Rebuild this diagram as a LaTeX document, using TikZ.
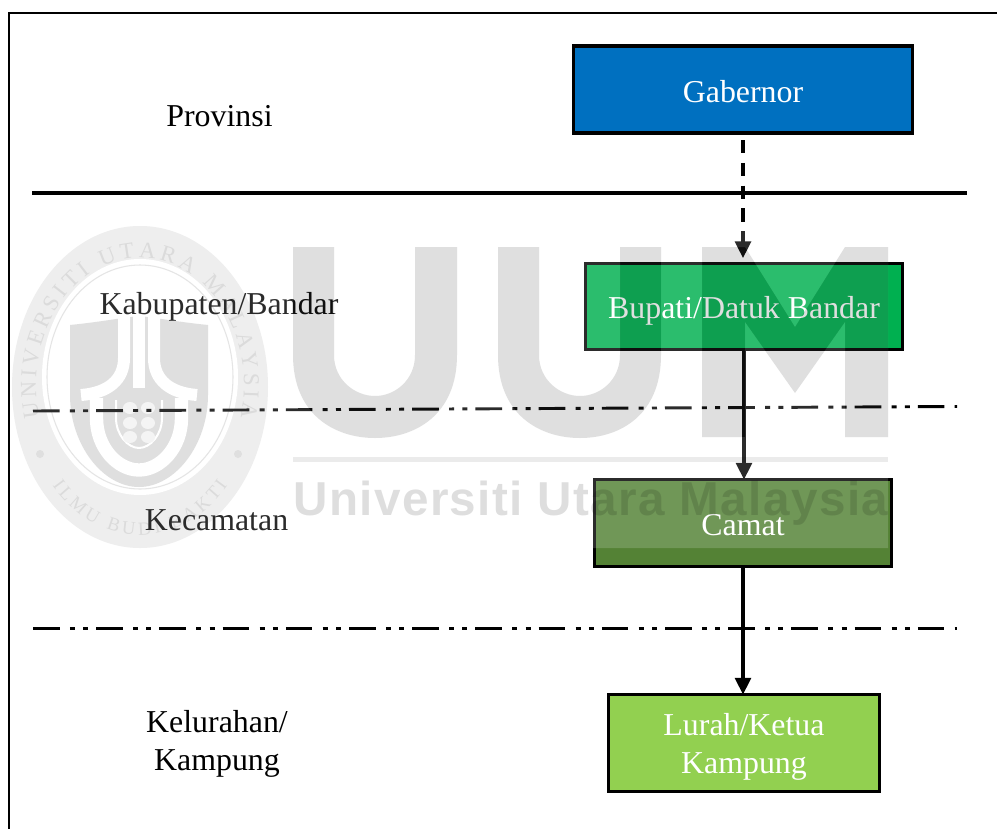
\documentclass[tikz,border=0pt]{standalone}
\usepackage{fontspec}
\setmainfont{Liberation Serif}
\newfontfamily\wmfont[LetterSpace=3]{Liberation Sans}
\usetikzlibrary{arrows.meta,decorations.text}
\definecolor{gabfill}{HTML}{0070C0}
\definecolor{bupfill}{HTML}{00B050}
\definecolor{camfill}{HTML}{548235}
\definecolor{lurfill}{HTML}{92D050}
\definecolor{wmgray}{HTML}{525252}
\newcommand{\labelfont}{\fontsize{23.9pt}{28.5pt}\selectfont}
\newcommand{\sealfont}{\fontsize{17pt}{20pt}\selectfont\color{black!17}}
\newcommand{\sealfontb}{\fontsize{14pt}{17pt}\selectfont\color{black!17}}
\tikzset{
  office/.style={draw=black,line width=2.5pt,text=white,inner sep=0pt,outer sep=0pt,align=center,font=\labelfont},
  level/.style={text=black,inner sep=0pt,align=center,font=\labelfont},
  link/.style={draw=black,line width=2.3pt,-{Triangle[width=12pt,length=12.5pt]}},
  framing/.style={draw=black,line width=2.1pt},
  solidsep/.style={draw=black,line width=2.4pt},
  dotsep/.style={draw=black,line width=2.2pt,dash pattern=on 20pt off 7.7pt on 3.75pt off 6.2pt on 3.75pt off 6pt},
  wmmark/.style={fill=wmgray,fill opacity=.18,draw=none},
}
\newcommand{\wmletters}{%
  (293,247) -- (293,355) .. controls (293,415) and (335,438) .. (375,438) .. controls (415,438) and (457,415) .. (457,355) -- (457,247) -- (415,247) -- (415,355) .. controls (415,380) and (395,396) .. (375,396) .. controls (355,396) and (334,380) .. (334,355) -- (334,247) -- cycle
  (498,247) -- (498,355) .. controls (498,415) and (540,438) .. (580,438) .. controls (620,438) and (661,415) .. (661,355) -- (661,247) -- (620,247) -- (620,355) .. controls (620,380) and (600,396) .. (580,396) .. controls (560,396) and (539,380) .. (539,355) -- (539,247) -- cycle
  (702,247) -- (745,247) -- (795,327) -- (845,247) -- (888,247) -- (888,437) -- (845,437) -- (845,322) -- (795,393) -- (745,322) -- (745,437) -- (702,437) -- cycle}
\begin{document}
\begin{tikzpicture}[x=.75pt,y=-.75pt]
\useasboundingbox (0,0) rectangle (997,829);
\fill[white] (0,0) rectangle (997,829);
% seal of the watermark
\fill[black!8] (140,387) ellipse [x radius=128,y radius=161];
\fill[white] (140,377) ellipse [x radius=98,y radius=118];
\draw[black!12,line width=.8pt] (140,377) ellipse [x radius=93,y radius=112];
\path[decorate,decoration={text along path,text align=fit to path,text={|\sealfont|UNIVERSITI UTARA MALAYSIA}}]
  plot[domain=195:-15,samples=60] ({140+104*cos(\x)},{385-127*sin(\x)});
\path[decorate,decoration={text along path,text align=fit to path,text={|\sealfontb|ILMU BUDI BAKTI}}]
  plot[domain=222:318,samples=40] ({140+118*cos(\x)},{385-150*sin(\x)});
\fill[black!15] (40,454) circle [radius=4];
\fill[black!15] (238,454) circle [radius=4];
\fill[black!15] (70,325) .. controls (100,322) and (120,318) .. (139,316) .. controls (158,318) and (178,322) .. (208,325)
  -- (208,395) .. controls (208,445) and (175,487) .. (139,487) .. controls (103,487) and (70,445) .. (70,395) -- cycle;
\draw[white,line width=9pt] (124,316) -- (124,358) .. controls (124,380) and (108,393) .. (81,395);
\draw[white,line width=9pt] (154,316) -- (154,358) .. controls (154,380) and (170,393) .. (197,395);
\draw[white,line width=9pt] (139,316) -- (139,388);
\draw[white,line width=10pt] (96.5,398) -- (96.5,418) .. controls (96.5,448) and (118,470) .. (139,470) .. controls (160,470) and (181.5,448) .. (181.5,418) -- (181.5,398);
\draw[white,line width=1.5pt] (116,400) -- (116,418) .. controls (116,435) and (128,448) .. (139,448) .. controls (150,448) and (162,435) .. (162,418) -- (162,400);
\foreach \yy in {408,423,437}{
  \fill[black!5] (130,\yy) ellipse [x radius=7,y radius=6];
  \fill[black!5] (148,\yy) ellipse [x radius=7,y radius=6];
}
% frame and separators
\coordinate (ftr) at (997,13);
\coordinate (ftl) at (9,13);
\coordinate (fbl) at (9,829);
\draw[framing] (ftr) -- (ftl) -- (fbl);
\coordinate (s1a) at (32,193);
\coordinate (s1b) at (967,193);
\draw[solidsep] (s1a) -- (s1b);
\coordinate (s2a) at (33,411);
\coordinate (s2b) at (957,406.5);
\draw[dotsep] (s2a) -- (s2b);
\coordinate (s3a) at (33,628.5);
\coordinate (s3b) at (957,628.5);
\draw[dotsep] (s3a) -- (s3b);
% level labels
\node[level,anchor=base] (lprov) at (219.5,126) {Provinsi};
\node[level,anchor=base] (lkab) at (219,314) {Kabupaten/Bandar};
\node[level,anchor=base] (lkec) at (216.5,530) {Kecamatan};
\node[level] (lkel) at (217,744) {Kelurahan/\\Kampung};
% offices
\node[office,fill=gabfill,minimum width=254.25pt,minimum height=65.25pt,text height=18.75pt,text depth=0pt] (gab) at (743,89.5) {Gabernor};
\node[office,fill=bupfill,minimum width=237.75pt,minimum height=64.5pt,text height=17.25pt,text depth=0pt] (bup) at (744,306.5) {Bupati/Datuk Bandar};
\node[office,fill=camfill,minimum width=222.75pt,minimum height=65.25pt,text height=18pt,text depth=0pt] (cam) at (743,523) {Camat};
\node[office,fill=lurfill,minimum width=203.25pt,minimum height=72.75pt] (lur) at (744,743) {\rule{0pt}{22.3pt}Lurah/Ketua\\Kampung};
% connectors
\draw[link,dash pattern=on 10pt off 7.1pt,shorten <=5.25pt,shorten >=4.1pt] (gab.south) -- (gab.south |- bup.north);
\draw[link] (bup.south) -- (bup.south |- cam.north);
\draw[link] (cam.south) -- (cam.south |- lur.north);
% watermark on top
\fill[white,fill opacity=.17,even odd rule] (12,225) rectangle (888,548) \wmletters;
\fill[wmmark] \wmletters;
\fill[black,fill opacity=.08] (293,457) rectangle (888,462);
\node[anchor=base west,inner sep=0pt,text=black,text opacity=.13] (wmtext) at (293,515) {\resizebox{446.25pt}{!}{\wmfont\fontsize{31.4pt}{36pt}\selectfont\bfseries Universiti Utara Malaysia}};
\end{tikzpicture}
\end{document}
